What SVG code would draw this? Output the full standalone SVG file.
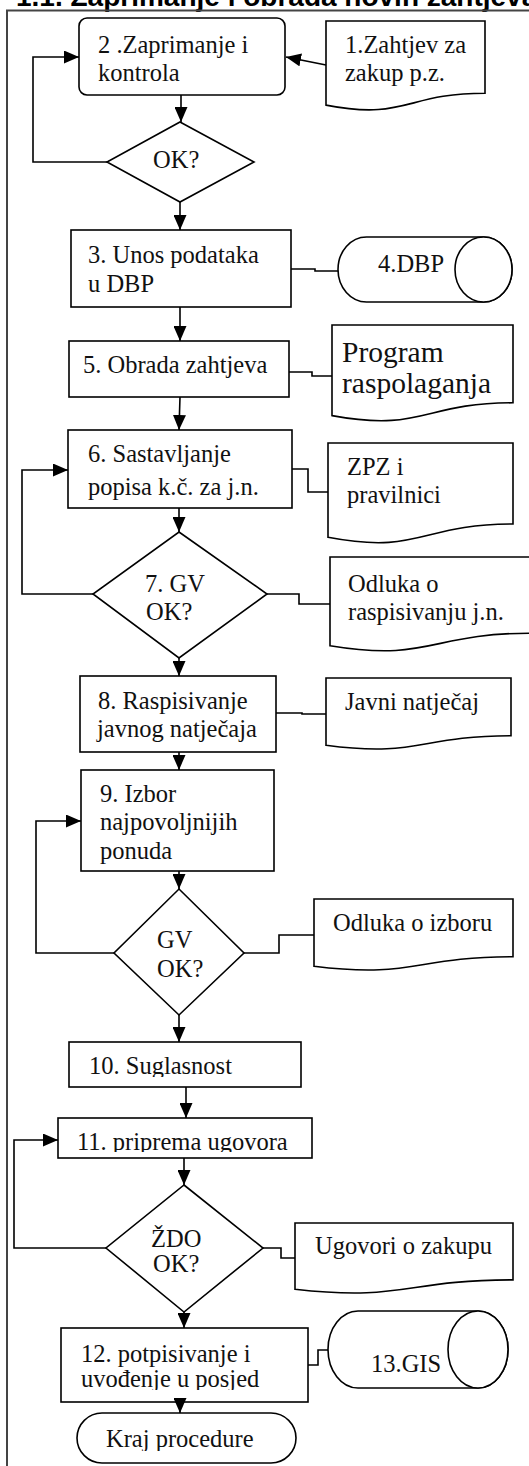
<svg xmlns="http://www.w3.org/2000/svg" width="529" height="1466" viewBox="0 0 529 1466">
<style>
  .shape { fill: #fff; stroke: #000; stroke-width: 1.6; }
  .conn { fill: none; stroke: #000; stroke-width: 1.6; }
  .t { font-family: "Liberation Serif", "Times New Roman", serif; font-size: 24.5px; fill: #111; }
  .big { font-size: 29.5px; }
  .title { font-family: "Liberation Sans", Arial, sans-serif; font-weight: bold; font-size: 28px; fill: #000; }
</style>
<defs>
  <marker id="arrow" viewBox="0 0 15 13" refX="15" refY="6.5" markerWidth="15" markerHeight="13" markerUnits="userSpaceOnUse" orient="auto">
    <path d="M0,0 L15,6.5 L0,13 Z" fill="#000"/>
  </marker>
  <clipPath id="c10"><rect x="60" y="1040" width="250" height="37"/></clipPath>
  <clipPath id="c11"><rect x="55" y="1115" width="260" height="37"/></clipPath>
  <clipPath id="c12"><rect x="58" y="1325" width="255" height="65"/></clipPath>
  <clipPath id="ckraj"><rect x="75" y="1410" width="225" height="41"/></clipPath>
</defs>

<g id="frame">
  <text class="title" x="16" y="6">1.1. Zaprimanje i obrada novih zahtjeva</text>
  <path d="M7,1470 V10.5 H535" fill="none" stroke="#444" stroke-width="2"/>
</g>

<g id="connectors">
  <line class="conn" x1="326" y1="65" x2="286" y2="57" marker-end="url(#arrow)"/>
  <line class="conn" x1="181" y1="95" x2="181" y2="122" marker-end="url(#arrow)"/>
  <polyline class="conn" points="107,162 33,162 33,57 79,57" marker-end="url(#arrow)"/>
  <line class="conn" x1="180" y1="202" x2="180" y2="230" marker-end="url(#arrow)"/>
  <polyline class="conn" points="291,269 315,269 315,271 338,271"/>
  <line class="conn" x1="180" y1="307" x2="180" y2="341" marker-end="url(#arrow)"/>
  <polyline class="conn" points="289,372 312,372 312,376 332,376"/>
  <line class="conn" x1="180" y1="397" x2="179" y2="430" marker-end="url(#arrow)"/>
  <polyline class="conn" points="292,469 308,469 308,492 328,492"/>
  <line class="conn" x1="179" y1="508" x2="179" y2="532" marker-end="url(#arrow)"/>
  <polyline class="conn" points="93,594 22,594 22,470 68,470" marker-end="url(#arrow)"/>
  <polyline class="conn" points="267,594 299,594 299,604 330,604"/>
  <line class="conn" x1="179" y1="658" x2="179" y2="676" marker-end="url(#arrow)"/>
  <polyline class="conn" points="276,713 302,713 302,714 326,714"/>
  <line class="conn" x1="179" y1="752" x2="179" y2="770" marker-end="url(#arrow)"/>
  <line class="conn" x1="179" y1="871" x2="179" y2="889" marker-end="url(#arrow)"/>
  <polyline class="conn" points="114,953 36,953 36,821 81,821" marker-end="url(#arrow)"/>
  <polyline class="conn" points="244,953 279,953 279,935 314,935"/>
  <line class="conn" x1="179" y1="1015" x2="179" y2="1042" marker-end="url(#arrow)"/>
  <line class="conn" x1="186" y1="1087" x2="186" y2="1118" marker-end="url(#arrow)"/>
  <line class="conn" x1="184" y1="1158" x2="184" y2="1185" marker-end="url(#arrow)"/>
  <polyline class="conn" points="106,1248 14,1248 14,1140 58,1140" marker-end="url(#arrow)"/>
  <polyline class="conn" points="263,1248 281,1248 281,1258 295,1258"/>
  <line class="conn" x1="184" y1="1312" x2="184" y2="1328" marker-end="url(#arrow)"/>
  <polyline class="conn" points="308,1365 318,1365 318,1350 328,1350"/>
</g>

<g id="n1">
  <path class="shape" d="M326,21 H485 V93.2 C405.5,93.2 405.5,120.7 326,105.1 Z"/>
  <text class="t" x="345" y="53">1.Zahtjev za</text>
  <text class="t" x="345" y="81">zakup p.z.</text>
</g>
<g id="n2">
  <rect class="shape" x="79" y="18" width="206" height="77" rx="8"/>
  <text class="t" x="98" y="53">2 .Zaprimanje i</text>
  <text class="t" x="98" y="81">kontrola</text>
</g>
<g id="d1">
  <polygon class="shape" points="180,122 254,162 180,202 107,162"/>
  <text class="t" x="153" y="168">OK?</text>
</g>
<g id="n3">
  <rect class="shape" x="71" y="230" width="220" height="77"/>
  <text class="t" x="88" y="263">3. Unos podataka</text>
  <text class="t" x="88" y="291.5">u DBP</text>
</g>
<g id="n4">
  <path class="shape" d="M366.5,237 H483.5 A28.5,32.5 0 0 1 483.5,302 H366.5 A28.5,32.5 0 0 1 366.5,237 Z"/>
  <ellipse class="shape" cx="483.5" cy="269.5" rx="28.5" ry="32.5"/>
  <text class="t" x="378" y="271.5">4.DBP</text>
</g>
<g id="n5">
  <rect class="shape" x="69" y="341" width="220" height="56"/>
  <text class="t" x="83" y="373">5. Obrada zahtjeva</text>
</g>
<g id="nprog">
  <path class="shape" d="M332,325 H513 V402.8 C422.5,402.8 422.5,432.4 332,415.6 Z"/>
  <text class="t big" x="342" y="361.5">Program</text>
  <text class="t big" x="342" y="393">raspolaganja</text>
</g>
<g id="n6">
  <rect class="shape" x="68" y="430" width="224" height="78"/>
  <text class="t" x="88" y="461.5">6. Sastavljanje</text>
  <text class="t" x="88" y="494.5">popisa k.č. za j.n.</text>
</g>
<g id="nzpz">
  <path class="shape" d="M328,443 H513 V524 C420.5,524 420.5,554.9 328,537.3 Z"/>
  <text class="t" x="347" y="475">ZPZ i</text>
  <text class="t" x="347" y="503">pravilnici</text>
</g>
<g id="d7">
  <polygon class="shape" points="179,532 267,594 179,658 93,594"/>
  <text class="t" x="145" y="592">7. GV</text>
  <text class="t" x="146" y="620">OK?</text>
</g>
<g id="nodluka1">
  <path class="shape" d="M330,557 H531 V633.2 C430,633.2 430,662.2 330,645.7 Z"/>
  <text class="t" x="348" y="592">Odluka o</text>
  <text class="t" x="348" y="620">raspisivanju j.n.</text>
</g>
<g id="n8">
  <rect class="shape" x="80" y="676" width="196" height="76"/>
  <text class="t" x="98" y="708.5">8. Raspisivanje</text>
  <text class="t" x="97" y="737">javnog natječaja</text>
</g>
<g id="njavni">
  <path class="shape" d="M326,678 H511 V735.7 C418.5,735.7 418.5,757.7 326,745.2 Z"/>
  <text class="t" x="345" y="710">Javni natječaj</text>
</g>
<g id="n9">
  <rect class="shape" x="81" y="770" width="193" height="101"/>
  <text class="t" x="100" y="802">9. Izbor</text>
  <text class="t" x="100" y="830">najpovoljnijih</text>
  <text class="t" x="100" y="858.5">ponuda</text>
</g>
<g id="d9">
  <polygon class="shape" points="179,889 244,953 179,1015 114,953"/>
  <text class="t" x="157" y="948">GV</text>
  <text class="t" x="157" y="977">OK?</text>
</g>
<g id="nizbor">
  <path class="shape" d="M314,899 H513 V956.7 C413.5,956.7 413.5,978.7 314,966.2 Z"/>
  <text class="t" x="333" y="931">Odluka o izboru</text>
</g>
<g id="n10">
  <rect class="shape" x="69" y="1042" width="232" height="45"/>
  <text class="t" x="89" y="1074" clip-path="url(#c10)">10. Suglasnost</text>
</g>
<g id="n11">
  <rect class="shape" x="58" y="1118" width="254" height="40"/>
  <text class="t" x="77" y="1150" clip-path="url(#c11)">11. priprema ugovora</text>
</g>
<g id="d11">
  <polygon class="shape" points="184,1185 263,1248 184,1312 106,1248"/>
  <text class="t" x="151" y="1247">ŽDO</text>
  <text class="t" x="153" y="1272">OK?</text>
</g>
<g id="nugovori">
  <path class="shape" d="M295,1223 H513 V1279.9 C404,1279.9 404,1301.6 295,1289.3 Z"/>
  <text class="t" x="315" y="1254">Ugovori o zakupu</text>
</g>
<g id="n12">
  <rect class="shape" x="61" y="1328" width="247" height="74"/>
  <g clip-path="url(#c12)">
    <text class="t" x="81" y="1362">12. potpisivanje i</text>
    <text class="t" x="81" y="1387">uvođenje u posjed</text>
  </g>
</g>
<g id="n13">
  <path class="shape" d="M358,1311 H478 A30,38.5 0 0 1 478,1388 H358 A30,38.5 0 0 1 358,1311 Z"/>
  <ellipse class="shape" cx="478" cy="1349.5" rx="30" ry="38.5"/>
  <text class="t" x="371" y="1372">13.GIS</text>
</g>
<line class="conn" x1="180" y1="1400" x2="180" y2="1413" marker-end="url(#arrow)"/>
<g id="nkraj">
  <rect class="shape" x="77" y="1413" width="219" height="50" rx="25" ry="25"/>
  <text class="t" x="106" y="1447" clip-path="url(#ckraj)">Kraj procedure</text>
</g>
</svg>
